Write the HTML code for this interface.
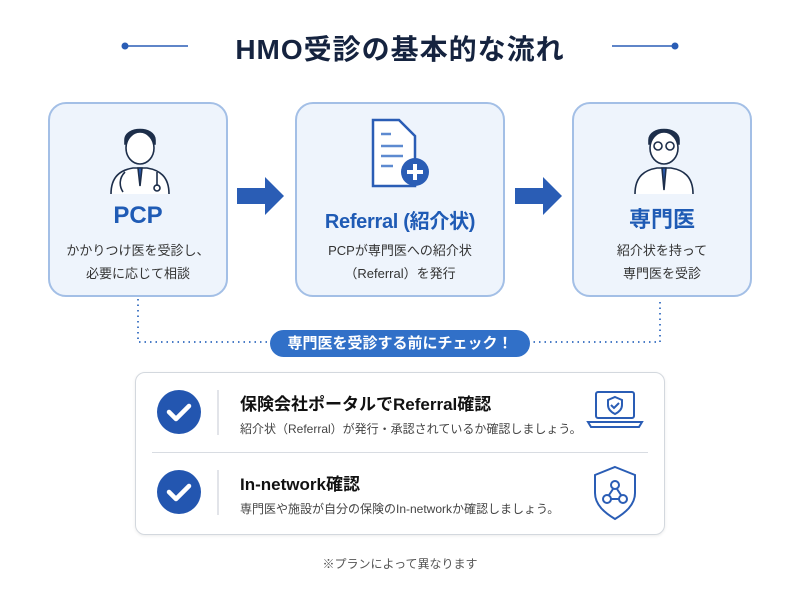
<!DOCTYPE html>
<html><head><meta charset="utf-8"><style>
*{margin:0;padding:0;box-sizing:border-box}
body{width:800px;height:600px;background:#fff;position:relative;overflow:hidden;font-family:"Liberation Sans","Noto Sans CJK JP",sans-serif;color:#222}
.a{position:absolute}
.box{position:absolute;top:102px;height:195px;background:#eef4fc;border:2px solid #a3bfe6;border-radius:18px;text-align:center}
.h{position:absolute;left:0;right:0;top:98px;font-weight:bold;color:#1f5bb5;font-size:24px;white-space:nowrap}
.d{position:absolute;left:0;right:0;top:135px;font-size:13px;line-height:23px;color:#333}
</style></head><body>
<div class="a" style="left:0;right:0;top:28px;text-align:center;font-size:28px;font-weight:bold;color:#15233f;letter-spacing:1px">HMO受診の基本的な流れ</div>
<svg class="a" style="left:0;top:0" width="800" height="600">
<g fill="#2a5db5" stroke="#2a5db5"><line x1="125" y1="46" x2="188" y2="46" stroke-width="1.5"/><circle cx="125" cy="46" r="3"/><line x1="612" y1="46" x2="675" y2="46" stroke-width="1.5"/><circle cx="675" cy="46" r="3"/></g>
<g fill="#2a5db5"><path d="M237 188h28v-11l19 19-19 19v-11h-28z"/><path d="M515 188h28v-11l19 19-19 19v-11h-28z"/></g>
<path d="M138 299V342H272M528 342H660V299" fill="none" stroke="#4a7cc7" stroke-width="2" stroke-dasharray="1.5 4"/>
</svg>
<div class="box" style="left:48px;width:180px"><div class="h">PCP</div><div class="d">かかりつけ医を受診し、<br>必要に応じて相談</div>
<svg class="a" style="left:55px;top:12px" width="70" height="78" fill="none" stroke="#1d2e4a" stroke-width="1.6"><path d="M20 24c0-14 30-14 30 0v4H20z" fill="#1d2e4a"/><ellipse cx="35" cy="32" rx="14" ry="16" fill="#fff"/><path d="M6 78c0-18 10-24 22-26h14c12 2 22 8 22 26" fill="#fff"/><path d="M33 52l2 18 2-18z" fill="#2a5db5"/><path d="M20 56c-6 6-6 14-2 20M52 56v14"/><circle cx="52" cy="72" r="3"/></svg></div>
<div class="box" style="left:295px;width:210px"><div class="h" style="font-size:20px;top:101px;letter-spacing:-0.3px">Referral (紹介状)</div><div class="d">PCPが専門医への紹介状<br>（Referral）を発行</div>
<svg class="a" style="left:72px;top:12px" width="70" height="76"><path d="M4 4h26l16 16v50H4z" fill="#fff" stroke="#2a5db5" stroke-width="2.5"/><path d="M12 18h10M12 30h22M12 40h22M12 50h12" stroke="#5d8ad0" stroke-width="2.5"/><circle cx="46" cy="56" r="14" fill="#2a5db5"/><path d="M46 48v16M38 56h16" stroke="#fff" stroke-width="4"/></svg></div>
<div class="box" style="left:572px;width:180px"><div class="h" style="font-size:22px">専門医</div><div class="d">紹介状を持って<br>専門医を受診</div>
<svg class="a" style="left:55px;top:12px" width="70" height="78" fill="none" stroke="#1d2e4a" stroke-width="1.6"><path d="M20 24c0-14 30-14 30 0v4H20z" fill="#1d2e4a"/><ellipse cx="35" cy="32" rx="14" ry="16" fill="#fff"/><circle cx="29" cy="30" r="4"/><circle cx="41" cy="30" r="4"/><path d="M6 78c0-18 10-24 22-26h14c12 2 22 8 22 26" fill="#fff"/><path d="M33 52l2 22 2-22z" fill="#2a5db5"/></svg></div>
<div class="a" style="left:270px;top:330px;width:260px;height:27px;border-radius:14px;background:#3170c8;color:#fff;font-weight:bold;font-size:15px;text-align:center;line-height:27px">専門医を受診する前にチェック！</div>
<div class="a" style="left:135px;top:372px;width:530px;height:163px;border:1.5px solid #d3d8de;border-radius:10px;box-shadow:0 1px 3px rgba(0,0,0,.08)"></div>
<div class="a" style="left:152px;top:452px;width:496px;height:1px;background:#d8dce2"></div>
<svg class="a" style="left:0;top:0" width="800" height="600">
<g><circle cx="179" cy="412" r="22" fill="#2356b0"/><path d="M169 412l7 7 13-13" stroke="#fff" stroke-width="4.5" fill="none" stroke-linecap="round" stroke-linejoin="round"/>
<circle cx="179" cy="492" r="22" fill="#2356b0"/><path d="M169 492l7 7 13-13" stroke="#fff" stroke-width="4.5" fill="none" stroke-linecap="round" stroke-linejoin="round"/></g>
<path d="M218 390v45M218 470v45" stroke="#d8dce2" stroke-width="1.5"/>
<g fill="none" stroke="#2a5db5" stroke-width="2"><rect x="596" y="392" width="38" height="26" rx="2"/><path d="M588 422h54l-3 5h-48z"/><path d="M615 397l7 3v5c0 4-3 7-7 9-4-2-7-5-7-9v-5z"/><path d="M611 405l3 3 5-5"/>
<path d="M615 467l20 8v18c0 12-10 20-20 26-10-6-20-14-20-26v-18z"/><circle cx="615" cy="485" r="4"/><circle cx="607" cy="499" r="4"/><circle cx="623" cy="499" r="4"/><path d="M613 489l-4 6M617 489l4 6M611 499h8"/></g>
</svg>
<div class="a" style="left:240px;top:390px;font-size:17px;font-weight:bold;color:#111">保険会社ポータルでReferral確認</div>
<div class="a" style="left:240px;top:420px;font-size:12px;color:#444">紹介状（Referral）が発行・承認されているか確認しましょう。</div>
<div class="a" style="left:240px;top:470px;font-size:17px;font-weight:bold;color:#111">In-network確認</div>
<div class="a" style="left:240px;top:500px;font-size:12px;color:#444">専門医や施設が自分の保険のIn-networkか確認しましょう。</div>
<div class="a" style="left:0;right:0;top:555px;text-align:center;font-size:12px;color:#555">※プランによって異なります</div>
</body></html>
